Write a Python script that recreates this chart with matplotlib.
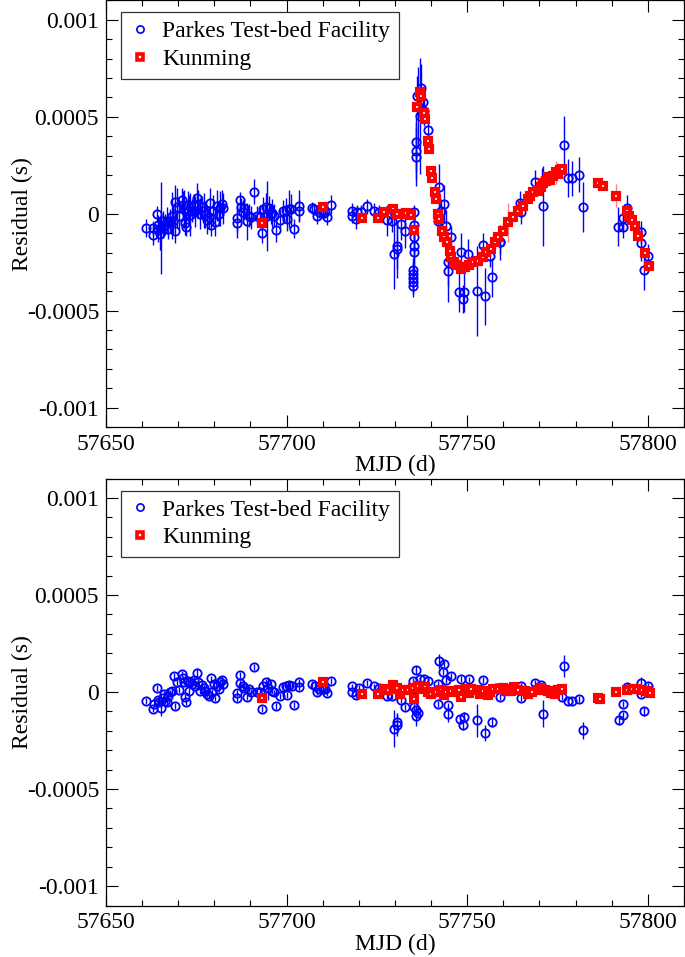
import numpy as np
import matplotlib
matplotlib.use("Agg")
import matplotlib.pyplot as plt
from matplotlib.lines import Line2D
from matplotlib.ticker import FixedLocator, FixedFormatter, MultipleLocator

plt.rcParams['font.family'] = 'serif'
plt.rcParams['font.serif'] = ['Liberation Serif', 'DejaVu Serif']
plt.rcParams['axes.unicode_minus'] = False

# residuals are in microseconds, converted to seconds when plotted
# ---- top panel: Parkes Test-bed Facility ----
top_pks_mjd = [57661.1, 57663.0, 57663.1, 57664.1, 57664.3, 57664.5, 57665.0, 57665.2, 57665.7, 57665.9,
               57666.4, 57666.9, 57667.3, 57667.8, 57668.2, 57668.5, 57669.1, 57669.1, 57669.8, 57670.3,
               57671.0, 57671.3, 57671.7, 57672.0, 57672.2, 57672.6, 57672.9, 57673.3, 57673.8, 57674.3,
               57674.7, 57675.2, 57675.6, 57675.9, 57676.6, 57677.0, 57677.5, 57678.0, 57678.4, 57678.9,
               57679.1, 57679.6, 57680.3, 57680.7, 57681.2, 57681.7, 57682.1, 57682.4,
               57686.3, 57686.3, 57687.0, 57687.4, 57688.0, 57688.3, 57689.1, 57689.5, 57690.2, 57691.1,
               57691.8, 57692.6, 57693.1, 57693.5, 57694.2, 57694.6, 57695.1, 57695.6, 57696.0, 57696.5,
               57697.2, 57698.3, 57699.1, 57699.7, 57700.2, 57700.6, 57701.3, 57702.0, 57703.3, 57703.3,
               57707.1, 57707.6, 57708.3, 57708.9, 57710.2, 57710.6, 57711.3, 57712.2,
               57718.0, 57718.2, 57719.2, 57719.6, 57720.6, 57722.2, 57724.3, 57725.6, 57727.8, 57729.3,
               57729.8, 57731.7, 57732.8, 57735.4, 57729.8, 57730.7, 57730.6, 57735.2, 57735.2, 57735.2,
               57735.2, 57734.9, 57734.9, 57734.9, 57734.9, 57734.9, 57735.8, 57735.8, 57735.8, 57736.1,
               57736.5, 57736.8, 57737.2, 57737.7, 57738.1, 57739.1, 57742.3, 57743.5, 57742.8, 57742.0,
               57744.2, 57745.4, 57744.6, 57744.8, 57748.3, 57750.2, 57747.6, 57749.1, 57748.8, 57752.8,
               57754.8, 57754.4, 57756.9, 57756.2, 57759.0,
               57759.0, 57764.5, 57765.0, 57768.7, 57770.6, 57771.0, 57776.9, 57778.0, 57778.9, 57780.9,
               57782.1, 57791.7, 57793.0, 57793.2, 57794.2, 57798.2, 57798.2, 57798.8, 57800.0]
top_pks_res = [-74, -112, -75, -2, -57, -84, -105, -74, -36, -67,
               -57, -36, -79, -36, -10, -36, 59, -91, 33, -10,
               71, 47, 24, -50, -67, 47, 16, -5, 16, 41,
               12, 81, 50, -1, 33, 16, -5, -33, -19, 53,
               -57, 16, -45, 41, -2, 29, 50, 29,
               -22, -46, 71, 33, 10, 29, -39, -10, -19, 113,
               -10, -15, -100, 24, 36, -10, 29, -2, 4, -10,
               -84, -31, 12, 19, -27, 24, 24, -77, 41, 16,
               29, 24, -14, 7, 2, 7, -19, 47,
               16, -10, -27, 7, 7, 38, 15, 7, -33, -36,
               7, -53, -87, 7, -208, -182, -165, -58, -122, -165,
               -199, -290, -311, -331, -354, -371, 368, 325, 294, 608,
               557, 505, 651, 574, 531, 431, 139, 50, 16, -36,
               -62, -122, -251, -294, -199, -208, -405, -405, -440, -397,
               -426, -160, -328, -216, -148,
               -148, 58, 7, 165, 165, 41, 356, 184, 184, 201,
               33, -67, -67, -22, 29, -153, -96, -289, -216]
top_pks_err = [45, 48, 40, 43, 50, 60, 80, 237, 50, 60,
               55, 70, 50, 60, 120, 70, 90, 60, 100, 80,
               60, 70, 100, 60, 50, 70, 80, 110, 60, 60,
               80, 80, 70, 80, 60, 90, 70, 70, 60, 80,
               60, 80, 70, 80, 60, 90, 70, 80,
               70, 80, 40, 50, 60, 50, 95, 60, 60, 65,
               50, 60, 50, 60, 70, 180, 60, 50, 70, 60,
               60, 50, 60, 60, 60, 100, 80, 50, 80, 60,
               30, 30, 40, 30, 30, 30, 40, 50,
               40, 40, 50, 40, 40, 40, 40, 40, 80, 60,
               40, 80, 90, 40, 180, 150, 120, 80, 90, 100,
               120, 60, 60, 60, 60, 60, 150, 150, 150, 100,
               200, 300, 120, 80, 80, 60, 120, 100, 60, 60,
               80, 60, 120, 163, 100, 80, 100, 100, 70, 232,
               146, 60, 100, 60, 60,
               90, 60, 60, 60, 70, 206, 146, 100, 90, 90,
               129, 100, 60, 60, 70, 90, 60, 103, 60]

# ---- top panel: Kunming ----
top_km_mjd = [57693.1, 57710.2, 57721.0, 57725.2, 57727.0, 57729.4, 57730.7, 57732.1, 57733.0, 57734.4,
              57735.2, 57736.1, 57737.0, 57737.2, 57738.1, 57738.4, 57739.1, 57739.3, 57740.0, 57740.2,
              57741.1, 57741.4, 57742.0, 57742.3, 57743.0, 57743.7, 57744.4, 57745.1, 57745.6, 57746.3,
              57747.2, 57748.3, 57749.3, 57750.4, 57751.6, 57752.9, 57754.4, 57755.3, 57756.5, 57757.6,
              57758.5, 57759.9, 57761.3, 57762.7, 57764.1, 57765.5, 57766.9, 57767.5, 57768.2, 57769.6,
              57770.3, 57771.0, 57771.8, 57772.4, 57773.0, 57773.8, 57774.7, 57775.0, 57775.6, 57776.3,
              57786.3, 57787.5, 57791.1, 57794.2, 57794.8, 57795.6, 57796.5, 57797.4, 57799.3, 57800.4]
top_km_res = [-50, 36, -24, -24, 7, 24, -2, -2, 2, -5,
              -84, 548, 626, 608, 522, 488, 373, 333, 218, 184,
              110, 76, -2, -27, -87, -122, -148, -191, -225, -251,
              -263, -285, -277, -263, -251, -242, -225, -199, -182, -148,
              -122, -87, -45, -19, 16, 41, 76, 90, 110, 119,
              140, 161, 170, 187, 175, 196, 213, 205, 225, 230,
              161, 144, 93, 12, -10, -33, -62, -113, -204, -268]
top_km_err = [10, 10, 10, 10, 10, 10, 10, 10, 10, 10,
              10, 10, 10, 10, 10, 10, 10, 10, 10, 10,
              10, 10, 10, 10, 10, 10, 10, 10, 10, 10,
              10, 10, 10, 10, 10, 10, 10, 10, 10, 10,
              10, 10, 100, 10, 10, 10, 10, 10, 10, 10,
              10, 10, 10, 10, 10, 10, 60, 10, 10, 10,
              10, 10, 60, 10, 10, 10, 10, 10, 10, 10]

# ---- bottom panel: Parkes Test-bed Facility ----
bot_pks_mjd = [57661.1, 57663.0, 57663.3, 57664.1, 57664.3, 57664.8, 57665.2, 57665.7, 57666.1, 57666.4,
               57666.9, 57667.3, 57667.8, 57668.2, 57668.9, 57669.1, 57669.8, 57670.3, 57671.0, 57671.3,
               57671.7, 57672.0, 57672.2, 57672.6, 57672.9, 57673.3, 57673.8, 57674.3, 57674.7, 57675.2,
               57675.6, 57676.1, 57676.6, 57677.0, 57677.5, 57678.1, 57678.6, 57679.1, 57679.3, 57679.8,
               57680.3, 57680.7, 57681.2, 57681.7, 57682.1, 57682.4,
               57686.3, 57686.3, 57687.0, 57687.2, 57688.0, 57688.3, 57689.1, 57689.5, 57690.2, 57691.1,
               57691.8, 57692.6, 57693.1, 57693.5, 57694.2, 57694.8, 57695.6, 57696.0, 57696.5, 57697.2,
               57698.3, 57699.1, 57699.7, 57700.2, 57700.6, 57701.6, 57702.0, 57703.3, 57703.3,
               57707.1, 57707.8, 57708.3, 57708.9, 57710.2, 57710.6, 57711.3, 57712.2,
               57718.0, 57718.2, 57719.2, 57720.1, 57722.2, 57724.3, 57725.6, 57727.8, 57729.3, 57729.8,
               57730.7, 57730.6, 57731.7, 57732.8, 57734.9, 57735.2, 57735.8, 57735.4, 57735.8, 57735.8,
               57736.5, 57737.0, 57738.0, 57739.1, 57741.8, 57741.8, 57742.3, 57743.5, 57743.2, 57744.2,
               57744.8, 57744.8, 57745.4, 57748.3, 57750.4, 57747.9, 57749.1, 57748.8, 57752.8, 57754.8,
               57754.4, 57756.9, 57759.0,
               57758.1, 57765.0, 57765.0, 57768.9, 57770.4, 57771.0, 57776.8, 57776.1, 57778.0, 57778.9,
               57780.9, 57782.1, 57791.9, 57793.0, 57793.2, 57794.2, 57798.2, 57798.2, 57798.8, 57800.0]
bot_pks_res = [-46, -88, -64, 19, -40, -53, -84, -33, -10, -45,
               -53, -19, -2, 7, 81, -70, 53, 12, 93, 70,
               50, -27, -50, 58, 7, 50, 41, 64, 33, 98,
               53, 7, 36, 19, 7, -10, -22, 70, 2, 41,
               -33, 33, 15, 53, 64, 41,
               -5, -33, 88, 46, 33, 19, -26, 15, 2, 127,
               -2, 2, -88, 33, 50, 19, 41, 7, -2, -70,
               -19, 24, 33, -15, 36, 33, -65, 53, 24,
               41, 33, -2, 15, 15, 15, -5, 57,
               29, 0, -14, 21, 48, 29, 21, -21, -21, -189,
               -168, -155, -43, -77, 55, 14, 112, -77, -94, -124,
               -107, 65, 65, 55, 40, -60, 158, 146, 103, 64,
               -69, -112, 82, 69, 65, -141, -129, -168, -146, -210,
               62, -155, -26,
               21, 31, -31, 48, 34, -112, 134, -26, -48, -48,
               -34, -198, -146, -117, -62, 26, 48, -9, -100, 31]
bot_pks_err = [15, 15, 15, 15, 15, 15, 40, 15, 15, 15,
               15, 15, 15, 15, 15, 15, 15, 15, 15, 15,
               15, 15, 15, 15, 15, 15, 15, 15, 15, 25,
               15, 15, 15, 15, 15, 15, 15, 15, 15, 15,
               15, 15, 15, 15, 20, 15,
               15, 15, 15, 15, 15, 15, 15, 15, 15, 15,
               15, 15, 15, 15, 15, 60, 15, 15, 15, 15,
               15, 15, 15, 15, 15, 15, 15, 15, 15,
               15, 15, 15, 15, 15, 15, 15, 15,
               15, 15, 15, 15, 15, 15, 15, 15, 15, 94,
               60, 40, 15, 15, 15, 15, 20, 15, 15, 50,
               15, 15, 15, 15, 15, 15, 40, 15, 15, 15,
               15, 40, 15, 15, 15, 25, 25, 30, 86, 40,
               15, 25, 15,
               15, 15, 15, 15, 15, 70, 56, 15, 15, 15,
               15, 43, 25, 15, 15, 15, 30, 15, 25, 15]

# ---- bottom panel: Kunming ----
bot_km_mjd = [57693.1, 57710.2, 57721.0, 57725.2, 57727.0, 57728.2, 57729.4, 57730.7, 57731.4, 57732.1,
              57733.5, 57734.9, 57735.4, 57736.5, 57737.7, 57738.4, 57739.1, 57740.0, 57741.4, 57742.8,
              57743.5, 57744.2, 57745.6, 57746.9, 57747.6, 57748.3, 57749.7, 57750.4, 57751.1, 57752.9,
              57753.6, 57754.4, 57755.7, 57756.4, 57757.1, 57758.5, 57759.9, 57760.6, 57761.3, 57762.2,
              57763.0, 57764.1, 57765.9, 57766.8, 57767.8, 57769.6, 57770.5, 57771.5, 57772.4, 57773.3,
              57774.3, 57775.2, 57776.1, 57786.3, 57786.8, 57791.1, 57794.2, 57795.6, 57796.9, 57798.3,
              57799.7, 57800.6]
bot_km_res = [-33, 50, -12, -12, 17, 10, 34, 21, -10, 9,
              9, 21, -34, 31, 17, 25, 0, -9, 0, 9,
              -15, 0, 3, 0, 10, -26, 14, -5, 17, 9,
              -10, 3, -17, 0, 14, 17, 21, 5, 17, 3,
              25, 9, 3, -10, 0, 9, 20, 9, 5, -3,
              -10, 9, 14, -30, -34, 0, 9, 17, 14, 9,
              3, -3]
bot_km_err = [8] * len(bot_km_mjd)

fig = plt.figure(figsize=(6.85, 9.57), dpi=100)
ax_top = fig.add_axes([0.1547, 0.5538, 0.8438, 0.4457])
ax_bot = fig.add_axes([0.1547, 0.0538, 0.8438, 0.4461])

panels = [
    (ax_top, top_pks_mjd, top_pks_res, top_pks_err, top_km_mjd, top_km_res, top_km_err),
    (ax_bot, bot_pks_mjd, bot_pks_res, bot_pks_err, bot_km_mjd, bot_km_res, bot_km_err),
]

for ax, pm, pr, pe, km, kr, ke in panels:
    ax.errorbar(pm, np.array(pr) * 1e-6, yerr=np.array(pe) * 1e-6, fmt='o', ms=6.0,
                mfc='none', mec='blue', mew=1.3, ecolor='blue', elinewidth=1.0, capsize=0)
    ax.errorbar(km, np.array(kr) * 1e-6, yerr=np.array(ke) * 1e-6, fmt='s', ms=4.6,
                mfc='white', mec='red', mew=3.0, ecolor='#ff8080', elinewidth=1.0, capsize=0)

    ax.set_xlim(57650, 57810)
    ax.set_ylim(-0.0011, 0.0011)
    ax.xaxis.set_major_locator(MultipleLocator(50))
    ax.xaxis.set_minor_locator(MultipleLocator(10))
    ax.yaxis.set_major_locator(FixedLocator([-0.001, -0.0005, 0, 0.0005, 0.001]))
    ax.yaxis.set_major_formatter(FixedFormatter(['-0.001', '-0.0005', '0', '0.0005', '0.001']))
    ax.yaxis.set_minor_locator(MultipleLocator(0.0001))
    ax.tick_params(which='both', direction='in', top=True, right=True, width=0.8, labelsize=17)
    ax.tick_params(which='major', length=8.6, pad=5)
    ax.tick_params(which='minor', length=4.3)
    for s in ax.spines.values():
        s.set_linewidth(0.9)

    ax.set_xlabel('MJD (d)', fontsize=17)
    ax.set_ylabel('Residual (s)', fontsize=17)
    ax.xaxis.set_label_coords(0.5, -0.066)
    ax.yaxis.set_label_coords(-0.127, 0.5)

    handles = [
        Line2D([], [], ls='none', marker='o', ms=5.2, mfc='none', mec='blue', mew=1.2),
        Line2D([], [], ls='none', marker='s', ms=4.0, mfc='white', mec='red', mew=2.6),
    ]
    leg = ax.legend(handles, ['Parkes Test-bed Facility', 'Kunming'], loc='upper left',
                    bbox_to_anchor=(0.026, 0.972), borderaxespad=0, fontsize=17,
                    fancybox=False, framealpha=1, edgecolor='#333333',
                    borderpad=0.36, labelspacing=0.27, handlelength=0.89, handletextpad=0.49)
    leg.get_frame().set_linewidth(0.9)

fig.savefig('out.png', dpi=100)
